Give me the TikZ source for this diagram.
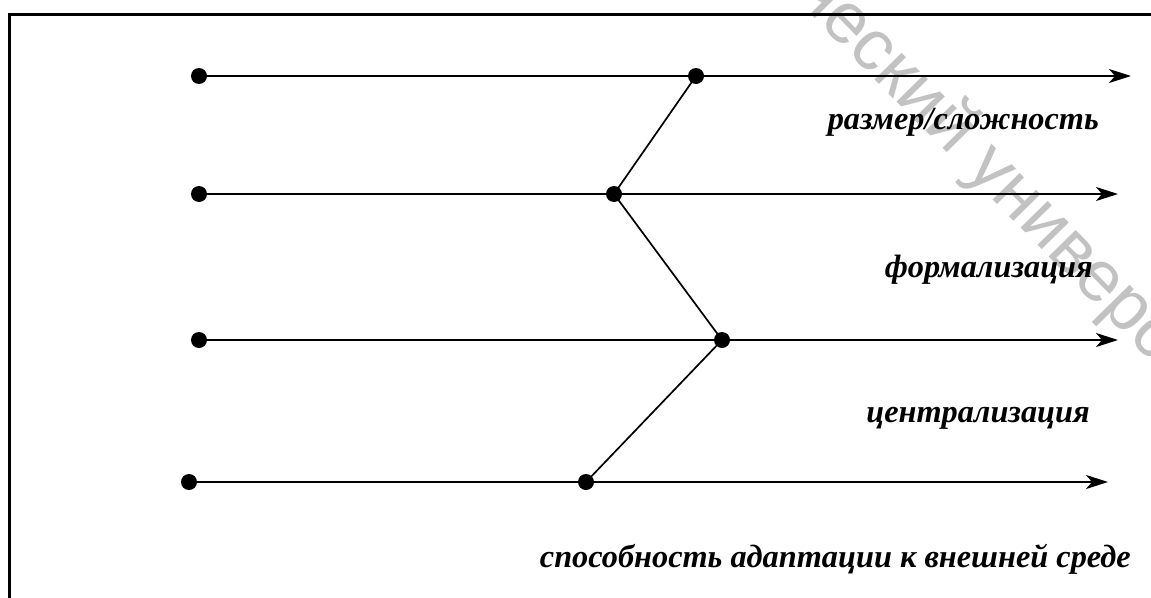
\documentclass[tikz,border=0pt]{standalone}
\usepackage{fontspec}
\setmainfont{Liberation Serif}
\newfontfamily\wmfont{Liberation Sans}
\usetikzlibrary{arrows.meta}
\begin{document}
\begin{tikzpicture}[x=1pt,y=-1pt,
  dot/.style={circle,fill=black,inner sep=0pt,minimum size=16pt},
  axis/.style={line width=2pt,-{Stealth[length=22pt,width=14pt,inset=6pt]}},
  link/.style={line width=1.7pt},
  lbl/.style={anchor=base east,inner sep=0pt,font=\fontsize{32.3}{33}\selectfont\bfseries\itshape}]
\useasboundingbox (0,0) rectangle (1151,597);
\begin{scope}
\clip (0,0) rectangle (1151,597);
\node[text=black!24,rotate=-45.5,anchor=base west,inner sep=0pt,font=\wmfont\fontsize{72}{72}\selectfont] (wm) at (792,-4.7) {ческий университет};
\draw[line width=3pt] (9,14.5) rectangle (1200,650);
\end{scope}
\node[dot] (L1) at (199,76) {};
\node[dot] (L2) at (199,194) {};
\node[dot] (L3) at (199,340) {};
\node[dot] (L4) at (189,482) {};
\node[dot] (M1) at (696,76) {};
\node[dot] (M2) at (614,194) {};
\node[dot] (M3) at (722,340) {};
\node[dot] (M4) at (586,482) {};
\coordinate (E1) at (1131,76);
\coordinate (E2) at (1118,194);
\coordinate (E3) at (1118,340);
\coordinate (E4) at (1108,482);
\draw[axis] (L1.center) -- (E1);
\draw[axis] (L2.center) -- (E2);
\draw[axis] (L3.center) -- (E3);
\draw[axis] (L4.center) -- (E4);
\draw[link] (M1.center) -- (M2.center) -- (M3.center) -- (M4.center);
\node[lbl] (T1) at (1099,129) {размер/сложность};
\node[lbl] (T2) at (1093,277) {формализация};
\node[lbl] (T3) at (1090,422) {централизация};
\node[lbl] (T4) at (1131,567) {способность адаптации к внешней среде};
\end{tikzpicture}
\end{document}
